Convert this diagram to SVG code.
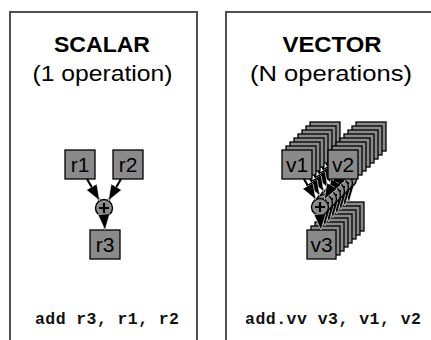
<svg xmlns="http://www.w3.org/2000/svg" xmlns:xlink="http://www.w3.org/1999/xlink" width="431" height="340" viewBox="0 0 431 340">
  <style>
    .panel { fill: #ffffff; stroke: #505050; stroke-width: 2; }
    .title { font-family: "Liberation Sans", Arial, sans-serif; font-size: 22px; font-weight: bold; fill: #000; text-anchor: middle; }
    .sub { font-family: "Liberation Sans", Arial, sans-serif; font-size: 22.5px; fill: #000; text-anchor: middle; }
    .code { font-family: "Liberation Mono", "Courier New", monospace; font-size: 16.5px; font-weight: bold; fill: #111; text-anchor: middle; }
    .reg { fill: #8a8a8a; stroke: #000; stroke-width: 1.3; }
    .reg-label { font-family: "Liberation Sans", Arial, sans-serif; font-size: 21px; fill: #000; text-anchor: middle; }
    .adder { fill: #8a8a8a; stroke: #000; stroke-width: 1.4; }
    .plus { stroke: #000; stroke-width: 2.2; fill: none; }
    .edge { stroke: #000; stroke-width: 2.2; fill: none; marker-end: url(#head); }
  </style>
  <defs>
    <marker id="head" viewBox="0 0 16 12" refX="16" refY="6" markerWidth="16" markerHeight="12" markerUnits="userSpaceOnUse" orient="auto">
      <path d="M0,0 L16,6 L0,12 z" fill="#000" stroke="#fff" stroke-width="0.6"/>
    </marker>
    <!-- one element lane of the vector add: two sources, adder, destination -->
    <g id="lane">
      <rect class="reg" x="282" y="150" width="30" height="29"/>
      <rect class="reg" x="328" y="150" width="30" height="29"/>
      <rect class="reg" x="307" y="230" width="29" height="29"/>
      <circle class="adder" cx="320" cy="207" r="8.5"/>
      <path class="plus" d="M315,207 H325 M320,202 V212"/>
      <line class="edge" x1="304" y1="179" x2="315.8" y2="199.6"/>
      <line class="edge" x1="336" y1="179" x2="324.2" y2="199.6"/>
      <line class="edge" x1="320" y1="215.5" x2="321" y2="230"/>
    </g>
  </defs>

  <!-- panels -->
  <rect class="panel" x="10" y="12" width="187" height="340"/>
  <rect class="panel" x="226" y="12" width="220" height="340"/>

  <!-- headings -->
  <text class="title" x="102" y="52" textLength="96" lengthAdjust="spacingAndGlyphs">SCALAR</text>
  <text class="sub" x="102.5" y="80.5" textLength="140" lengthAdjust="spacingAndGlyphs">(1 operation)</text>
  <text class="title" x="332" y="52" textLength="99" lengthAdjust="spacingAndGlyphs">VECTOR</text>
  <text class="sub" x="331" y="80.5" textLength="162" lengthAdjust="spacingAndGlyphs">(N operations)</text>

  <!-- instructions -->
  <text class="code" x="107" y="324" textLength="144" lengthAdjust="spacing">add r3, r1, r2</text>
  <text class="code" x="333" y="324" textLength="176" lengthAdjust="spacing">add.vv v3, v1, v2</text>

  <!-- scalar datapath -->
  <g id="r1"><rect class="reg" x="65" y="150" width="30" height="29"/><text class="reg-label" x="80" y="172">r1</text></g>
  <g id="r2"><rect class="reg" x="113" y="150" width="30" height="29"/><text class="reg-label" x="128" y="172">r2</text></g>
  <g id="sum"><circle class="adder" cx="104" cy="208" r="8.5"/><path class="plus" d="M99,208 H109 M104,203 V213"/></g>
  <g id="r3"><rect class="reg" x="90" y="230" width="30" height="29"/><text class="reg-label" x="105" y="252">r3</text></g>
  <g id="scalar-edges">
    <line class="edge" x1="87" y1="179" x2="99.7" y2="200.7"/>
    <line class="edge" x1="121" y1="179" x2="108.3" y2="200.7"/>
    <line class="edge" x1="104" y1="216.5" x2="105" y2="230"/>
  </g>

  <!-- vector datapath: back lanes, farthest first -->
  <g id="vector-lanes">
    <use xlink:href="#lane" transform="translate(28,-28)"/>
    <use xlink:href="#lane" transform="translate(24,-24)"/>
    <use xlink:href="#lane" transform="translate(20,-20)"/>
    <use xlink:href="#lane" transform="translate(16,-16)"/>
    <use xlink:href="#lane" transform="translate(12,-12)"/>
    <use xlink:href="#lane" transform="translate(8,-8)"/>
    <use xlink:href="#lane" transform="translate(4,-4)"/>
  </g>
  <!-- front lane -->
  <g id="v1"><rect class="reg" x="282" y="150" width="30" height="29"/><text class="reg-label" x="297" y="172">v1</text></g>
  <g id="v2"><rect class="reg" x="328" y="150" width="30" height="29"/><text class="reg-label" x="343" y="172">v2</text></g>
  <g id="vsum"><circle class="adder" cx="320" cy="207" r="8.5"/><path class="plus" d="M315,207 H325 M320,202 V212"/></g>
  <g id="v3"><rect class="reg" x="307" y="230" width="29" height="29"/><text class="reg-label" x="321.5" y="252">v3</text></g>
  <g id="vector-edges">
    <line class="edge" x1="304" y1="179" x2="315.8" y2="199.6"/>
    <line class="edge" x1="336" y1="179" x2="324.2" y2="199.6"/>
    <line class="edge" x1="320" y1="215.5" x2="321" y2="230"/>
  </g>
</svg>
